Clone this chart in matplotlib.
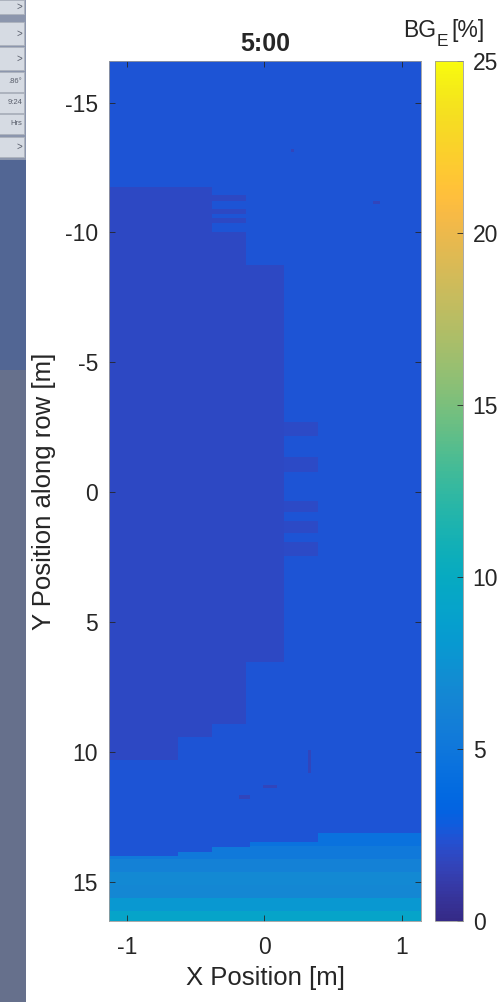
import numpy as np
import matplotlib
matplotlib.use("Agg")
import matplotlib.pyplot as plt
from matplotlib.colors import LinearSegmentedColormap
from matplotlib.patches import Rectangle

plt.rcParams["font.family"] = ["Liberation Sans", "DejaVu Sans"]

# ---- parula colour table -------------------------------------------------
PARULA = [
    (0.2081, 0.1663, 0.5292), (0.2116, 0.1898, 0.5777), (0.2123, 0.2138, 0.6270),
    (0.2081, 0.2386, 0.6771), (0.1959, 0.2645, 0.7279), (0.1707, 0.2919, 0.7792),
    (0.1253, 0.3242, 0.8303), (0.0591, 0.3598, 0.8683), (0.0117, 0.3875, 0.8820),
    (0.0060, 0.4086, 0.8828), (0.0165, 0.4266, 0.8786), (0.0329, 0.4430, 0.8720),
    (0.0498, 0.4586, 0.8641), (0.0629, 0.4737, 0.8554), (0.0723, 0.4887, 0.8467),
    (0.0779, 0.5040, 0.8384), (0.0793, 0.5200, 0.8312), (0.0749, 0.5375, 0.8263),
    (0.0641, 0.5570, 0.8240), (0.0488, 0.5772, 0.8228), (0.0343, 0.5966, 0.8199),
    (0.0265, 0.6137, 0.8135), (0.0239, 0.6287, 0.8038), (0.0231, 0.6418, 0.7913),
    (0.0228, 0.6535, 0.7768), (0.0267, 0.6642, 0.7607), (0.0384, 0.6743, 0.7436),
    (0.0590, 0.6838, 0.7254), (0.0843, 0.6928, 0.7062), (0.1133, 0.7015, 0.6859),
    (0.1453, 0.7098, 0.6646), (0.1801, 0.7177, 0.6424), (0.2178, 0.7250, 0.6193),
    (0.2586, 0.7317, 0.5954), (0.3022, 0.7376, 0.5712), (0.3482, 0.7424, 0.5473),
    (0.3953, 0.7459, 0.5244), (0.4420, 0.7481, 0.5033), (0.4871, 0.7491, 0.4840),
    (0.5300, 0.7491, 0.4661), (0.5709, 0.7485, 0.4494), (0.6099, 0.7473, 0.4337),
    (0.6473, 0.7456, 0.4188), (0.6834, 0.7435, 0.4044), (0.7184, 0.7411, 0.3905),
    (0.7525, 0.7384, 0.3768), (0.7858, 0.7356, 0.3633), (0.8185, 0.7327, 0.3498),
    (0.8507, 0.7299, 0.3360), (0.8824, 0.7274, 0.3217), (0.9139, 0.7258, 0.3063),
    (0.9450, 0.7261, 0.2886), (0.9739, 0.7314, 0.2666), (0.9938, 0.7455, 0.2403),
    (0.9990, 0.7653, 0.2164), (0.9955, 0.7861, 0.1967), (0.9880, 0.8066, 0.1794),
    (0.9789, 0.8271, 0.1633), (0.9697, 0.8481, 0.1475), (0.9626, 0.8705, 0.1309),
    (0.9589, 0.8949, 0.1132), (0.9598, 0.9218, 0.0948), (0.9661, 0.9514, 0.0755),
    (0.9763, 0.9831, 0.0538),
]
parula = LinearSegmentedColormap.from_list("parula", PARULA, N=256)

# ---- ground-level BG_E map [%] ------------------------------------------
x_limits = (-1.13, 1.14)
y_limits = (-16.6, 16.5)
open_level = 2.45         # unshaded ground between rows
shade_level = 1.9         # ground under the panel row

# main shaded footprint: rows of (top, bottom, right edge)
shade_top = [-11.75, -9.75, -8.75, 6.55, 8.90, 9.40]
shade_bottom = [-9.75, -8.75, 6.55, 8.90, 9.40, 10.30]
shade_right = [-0.39, -0.12, 0.14, -0.12, -0.37, -0.63]

# thin shaded strips next to the upper block
strip_top = [-11.46, -10.88, -10.54, -10.00]
strip_bottom = [-11.19, -10.69, -10.35, -9.75]
strip_right = -0.12

# short shaded bands right of the footprint
band_top = [-2.69, -1.35, 0.35, 1.12, 1.92]
band_bottom = [-2.15, -0.81, 0.77, 1.54, 2.46]
band_left, band_right = 0.14, 0.39
band_level = 2.0

# bright zone at the row end: onset along x, then levels by depth
edge_left = [-1.13, -0.63, -0.37, -0.10, 0.39]
edge_onset = [14.00, 13.85, 13.65, 13.45, 13.10]
depth_top = [13.10, 13.60, 14.10, 14.60, 15.10, 15.60, 16.10]
depth_level = [4.5, 5.2, 6.0, 6.8, 6.6, 8.0, 9.2]

# isolated low readings
speck_x0 = [0.00, -0.18, 0.32, 0.18, 0.80]
speck_x1 = [0.10, -0.10, 0.35, 0.22, 0.84]
speck_y0 = [11.25, 11.65, 9.90, -13.20, -11.20]
speck_y1 = [11.40, 11.80, 10.80, -13.10, -11.10]
speck_level = 1.7

cbar_ticks = [0, 5, 10, 15, 20, 25]
x_ticks = [-1, 0, 1]
y_ticks = [-15, -10, -5, 0, 5, 10, 15]

# ---- build grid ----------------------------------------------------------
x_edges = np.linspace(x_limits[0], x_limits[1], 92)
y_edges = np.linspace(y_limits[0], y_limits[1], 663)
xc = 0.5 * (x_edges[:-1] + x_edges[1:])
yc = 0.5 * (y_edges[:-1] + y_edges[1:])
X, Y = np.meshgrid(xc, yc)
Z = np.full(X.shape, open_level)

for t, b, r in zip(shade_top, shade_bottom, shade_right):
    Z[(Y >= t) & (Y < b) & (X < r)] = shade_level
for t, b in zip(strip_top, strip_bottom):
    Z[(Y >= t) & (Y < b) & (X < strip_right)] = shade_level
for t, b in zip(band_top, band_bottom):
    Z[(Y >= t) & (Y < b) & (X >= band_left) & (X < band_right)] = band_level

edge_right = edge_left[1:] + [x_limits[1]]
depth_arr = np.array(depth_top)
for l, r, onset in zip(edge_left, edge_right, edge_onset):
    m = (X >= l) & (X < r) & (Y >= onset)
    idx = np.clip(np.searchsorted(depth_arr, Y[m], side="right") - 1, 0, len(depth_level) - 1)
    Z[m] = np.array(depth_level)[idx]

for x0, x1, y0, y1 in zip(speck_x0, speck_x1, speck_y0, speck_y1):
    Z[(X >= x0) & (X < x1) & (Y >= y0) & (Y < y1)] = speck_level

# ---- figure --------------------------------------------------------------
W, H = 500, 1002
fig = plt.figure(figsize=(W / 100, H / 100), dpi=100)
fig.patch.set_facecolor("white")

def px_rect(x0, y0, x1, y1, fc, ec="none", lw=0):
    fig.patches.append(Rectangle((x0 / W, 1 - y1 / H), (x1 - x0) / W, (y1 - y0) / H,
                                 transform=fig.transFigure, facecolor=fc,
                                 edgecolor=ec, linewidth=lw, zorder=0))

# side panel of the application window
px_rect(0, 0, 26, H, (0.40, 0.44, 0.55))
px_rect(0, 0, 26, 160, (0.55, 0.59, 0.68))
px_rect(0, 160, 26, 370, (0.32, 0.40, 0.58))
for y0, y1, label in [(0, 14, ">"), (22, 45, ">"), (47, 70, ">"),
                      (72, 92, ".86°"), (93, 113, "9:24"), (114, 134, "Hrs"),
                      (137, 157, ">")]:
    px_rect(-2, y0, 24, y1, (0.84, 0.86, 0.89), ec=(0.68, 0.70, 0.74), lw=0.6)
    fig.text(22 / W, 1 - (y0 + y1) / 2 / H, label, ha="right", va="center",
             fontsize=5.5 if label != ">" else 7, color=(0.35, 0.37, 0.42))

ax = fig.add_axes([109 / W, 1 - 921 / H, 312 / W, 860 / H])
mesh = ax.pcolormesh(x_edges, y_edges, Z, cmap=parula, vmin=0, vmax=25,
                     shading="flat", rasterized=True)
ax.set_xlim(*x_limits)
ax.set_ylim(y_limits[1], y_limits[0])
ax.set_xticks(x_ticks)
ax.set_yticks(y_ticks)
ax.set_xticklabels([str(v) for v in x_ticks])
ax.set_yticklabels([str(v) for v in y_ticks])
ax.tick_params(direction="in", length=4, width=0.6, color="#262626",
               labelsize=16.5, labelcolor="#262626", top=True, right=True)
ax.tick_params(axis="x", pad=11)
ax.tick_params(axis="y", pad=8)
for s in ax.spines.values():
    s.set_color("#9a9a9a")
    s.set_linewidth(0.6)

ax.set_title("5:00", fontsize=18, fontweight="bold", color="#262626", pad=7)
ax.set_xlabel("X Position [m]", fontsize=18.5, color="#262626")
ax.xaxis.set_label_coords(0.5, -0.052)
ax.set_ylabel("Y Position along row [m]", fontsize=18.5, color="#262626")
ax.yaxis.set_label_coords(-0.17, 0.5)

cax = fig.add_axes([435 / W, 1 - 921 / H, 28 / W, 860 / H])
cb = fig.colorbar(mesh, cax=cax, ticks=cbar_ticks)
cb.ax.tick_params(direction="in", length=4, width=0.6, color="#262626",
                  labelsize=16.5, labelcolor="#262626", pad=7)
cb.outline.set_edgecolor("#9a9a9a")
cb.outline.set_linewidth(0.6)

# colour bar heading BG with subscript E
fig.text(403 / W, 1 - 37 / H, "BG", ha="left", va="baseline",
         fontsize=16.5, color="#262626")
fig.text(437 / W, 1 - 46 / H, "E", ha="left", va="baseline",
         fontsize=12.5, color="#262626")
fig.text(451 / W, 1 - 37 / H, "[%]", ha="left", va="baseline",
         fontsize=16.5, color="#262626")

fig.savefig("out.png", dpi=100)
